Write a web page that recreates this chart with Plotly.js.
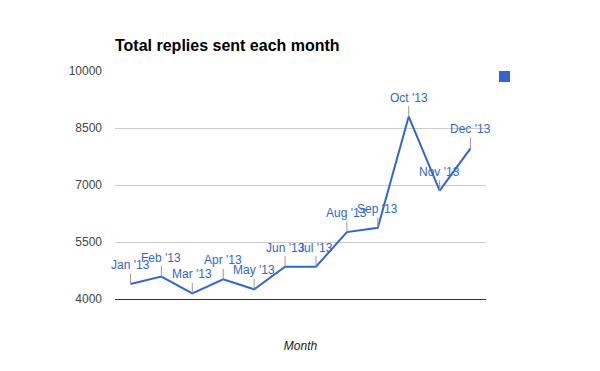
<!DOCTYPE html>
<html>
<head>
<meta charset="utf-8">
<script src="https://cdn.plot.ly/plotly-3.0.1.min.js"></script>
<style>html,body{margin:0;padding:0;background:#fff;}#chart{width:600px;height:371px;}</style>
</head>
<body>
<div id="chart"></div>
<script>
const months = ["Jan '13","Feb '13","Mar '13","Apr '13","May '13","Jun '13","Jul '13","Aug '13","Sep '13","Oct '13","Nov '13","Dec '13"];
const replies = [4395, 4590, 4150, 4520, 4255, 4850, 4850, 5760, 5875, 8800, 6850, 7965];
const yTicks = [4000, 5500, 7000, 8500, 10000];

const FONT = "Arial, 'Liberation Sans', sans-serif";
const annotations = months.map((m, i) => ({
  x: m, y: replies[i], xref: 'x', yref: 'y',
  text: m, showarrow: true, arrowhead: 0, arrowwidth: 1, arrowcolor: '#999999',
  ax: 0, ay: -19, standoff: 0,
  font: {family: FONT, size: 12, color: '#3366cc'}
}));

const trace = {
  x: months, y: replies, type: 'scatter', mode: 'lines',
  line: {color: '#3366cc', width: 2}, hoverinfo: 'skip', showlegend: false
};

const layout = {
  width: 600, height: 371,
  margin: {l: 115, r: 114, t: 71, b: 72},
  paper_bgcolor: '#ffffff', plot_bgcolor: '#ffffff',
  font: {family: FONT, size: 12, color: '#444444'},
  title: {text: 'Total replies sent each month', x: 0, xanchor: 'left', xref: 'paper', y: 1 - 45/371, yanchor: 'middle',
          font: {family: FONT, size: 16, color: '#000000', weight: 'bold'}},
  xaxis: {type: 'category', showticklabels: false, ticks: '', showgrid: false, zeroline: false,
          showline: true, linecolor: '#333333', linewidth: 1, range: [-0.5, 11.5],
          title: {text: '<i>Month</i>', standoff: 42, font: {family: FONT, size: 12, color: '#222222'}}},
  yaxis: {range: [4000, 10000], tickvals: yTicks, ticktext: yTicks.map(String), showgrid: true, gridcolor: '#cccccc',
          zeroline: false, showline: false, ticks: '', ticklabelstandoff: 12,
          tickfont: {family: FONT, size: 12, color: '#444444'}},
  annotations: annotations,
  shapes: [{type: 'rect', xref: 'paper', yref: 'paper', x0: (499-115)/371, x1: (510-115)/371,
            y0: (299-82)/228, y1: (299-71)/228, fillcolor: '#3366cc', line: {width: 0}}]
};

Plotly.newPlot('chart', [trace], layout, {staticPlot: true, displayModeBar: false});
</script>
</body>
</html>
